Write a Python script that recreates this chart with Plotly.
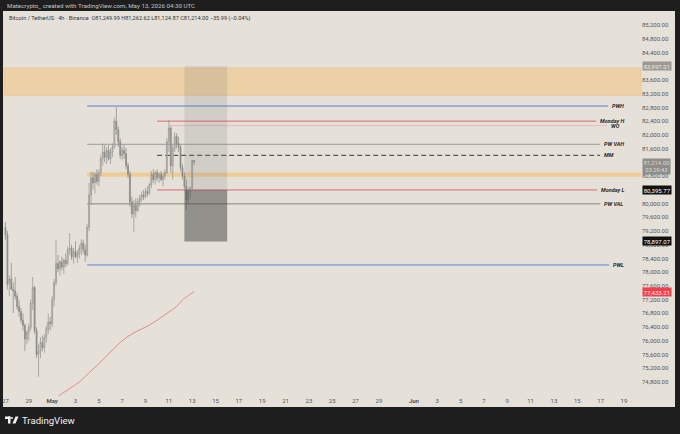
import pandas as pd
import plotly.graph_objects as go

# BTC/USDT 4h candles (Binance), first bar 2026-04-27 00:00 UTC
candle_start = "2026-04-27 00:00"
opens = [79300, 79100, 77650, 77800, 77500, 77450, 77300, 77000, 76850, 76600,
         76450, 76050, 76250, 76400, 77100, 77550, 76300, 75600, 75700, 75950,
         75800, 76100, 76350, 76550, 76500, 77200, 77700, 78250, 78100, 78300,
         78150, 78350, 78250, 78650, 78700, 78450, 78600, 78450, 78550, 78700,
         78850, 78650, 78500, 79300, 80250, 80750, 80600, 80850, 80650, 80900,
         81300, 81500, 81350, 81550, 81300, 81500, 81650, 82400, 82150, 81800,
         81400, 81550, 81450, 81100, 80850, 80050, 79700, 79950, 79800, 80050,
         80150, 80250, 80200, 80350, 80300, 80550, 80850, 80700, 80900, 80750,
         80850, 80700, 80800, 80900, 81800, 82200, 81100, 81600, 81950, 81750,
         81650, 81050, 80800, 80500, 80100, 80350, 80450, 81249.99]
highs = [79460, 79200, 77900, 78270, 77700, 77860, 77400, 77200, 76950, 76800,
         76500, 76300, 76500, 77200, 77860, 77600, 76400, 75900, 76100, 76150,
         76200, 76450, 76800, 76700, 77300, 77800, 78940, 78500, 78350, 78450,
         78400, 78550, 78750, 79140, 78800, 78700, 78900, 78650, 78800, 78950,
         78950, 78800, 79400, 80600, 80920, 80920, 80900, 81000, 81000, 81400,
         81750, 81700, 81650, 81700, 81600, 81750, 82500, 82810, 82250, 81900,
         81650, 81700, 81620, 81200, 80950, 80200, 80100, 80150, 80150, 80250,
         80350, 80400, 80450, 80500, 80600, 80950, 81000, 80950, 81000, 80900,
         80950, 80900, 81000, 81900, 82430, 82250, 81700, 82080, 82050, 81950,
         81700, 81150, 80900, 80700, 80450, 80500, 81270, 81262.62]
lows = [78950, 77500, 77300, 77600, 76810, 77200, 76900, 76700, 76500, 76300,
        75700, 75900, 76000, 76300, 76900, 76200, 75500, 74950, 75500, 75700,
        75650, 75950, 76200, 76300, 76400, 77000, 77600, 78000, 77900, 78050,
        77950, 78150, 78200, 78500, 78350, 78250, 78400, 78270, 78400, 78500,
        78550, 78300, 78450, 79200, 79960, 80400, 80300, 80550, 80500, 80800,
        81100, 81200, 81150, 81250, 81150, 81350, 81600, 82000, 81650, 81300,
        81250, 81300, 81000, 80750, 79900, 79580, 79170, 79600, 79750, 79900,
        80050, 80100, 80150, 80200, 80250, 80450, 80600, 80550, 80650, 80600,
        80650, 80500, 80700, 80850, 81500, 80900, 80700, 81500, 81600, 81500,
        80950, 80700, 80400, 79810, 80000, 80150, 80400, 81124.87]
closes = [79100, 77650, 77800, 77500, 77450, 77300, 77000, 76850, 76600, 76450,
          76050, 76250, 76400, 77100, 77550, 76300, 75600, 75700, 75950, 75800,
          76100, 76350, 76550, 76500, 77200, 77700, 78250, 78100, 78300, 78150,
          78350, 78250, 78650, 78700, 78450, 78600, 78450, 78550, 78700, 78850,
          78650, 78500, 79300, 80250, 80750, 80600, 80850, 80650, 80900, 81300,
          81500, 81350, 81550, 81300, 81500, 81650, 82400, 82150, 81800, 81400,
          81550, 81450, 81100, 80850, 80050, 79700, 79950, 79800, 80050, 80150,
          80250, 80200, 80350, 80300, 80550, 80850, 80700, 80900, 80750, 80850,
          80700, 80800, 80900, 81800, 82200, 81100, 81600, 81950, 81750, 81650,
          81050, 80800, 80500, 80100, 80350, 80450, 81250, 81214.00]

# moving average (red line), sampled at candle indices
ma_index = [26, 28, 33, 38, 43, 48, 53, 58, 63, 68, 74, 79, 84, 88, 91, 94, 97]
ma_values = [74330, 74420, 74610, 74800, 75070, 75330, 75620, 75900, 76130,
             76290, 76460, 76640, 76840, 77000, 77190, 77320, 77433.21]

# key levels drawn by the indicator
level_names = ["PWH", "Monday H", "WO", "PW VAH", "MM", "Monday L", "PW VAL", "PWL"]
level_prices = [82840, 82400, 82270, 81725, 81404, 80395.77, 79990, 78210]
level_starts = ["2026-05-04", "2026-05-10", "2026-05-11", "2026-05-04",
                "2026-05-10", "2026-05-10", "2026-05-04", "2026-05-04"]

# supply zones
zone_big = (83150, 83950)
zone_thin = (80780, 80900)
zone_thin_start = "2026-05-04"

# long-position tool
pos_entry = 80395.77
pos_stop = 78897.07
pos_target = 83997.01
pos_start = "2026-05-12 08:00"
pos_end = "2026-05-16 00:00"

price_ticks = list(range(74800, 85601, 400))
hidden_ticks = [84000, 81200, 80400]   # sit under the price badges
date_ticks = ["2026-04-27", "2026-04-29", "2026-05-01", "2026-05-03", "2026-05-05",
              "2026-05-07", "2026-05-09", "2026-05-11", "2026-05-13", "2026-05-15",
              "2026-05-17", "2026-05-19", "2026-05-21", "2026-05-23", "2026-05-25",
              "2026-05-27", "2026-05-29", "2026-06-01", "2026-06-03", "2026-06-05",
              "2026-06-07", "2026-06-09", "2026-06-11", "2026-06-13", "2026-06-15",
              "2026-06-17", "2026-06-19"]
date_labels = ["27", "29", "<b>May</b>", "3", "5", "7", "9", "11", "13", "15", "17",
               "19", "21", "23", "25", "27", "29", "<b>Jun</b>", "3", "5", "7", "9",
               "11", "13", "15", "17", "19"]

header = "Matecrypto_ created with TradingView.com, May 13, 2026 04:30 UTC"
symbol_line = ("Bitcoin / TetherUS · 4h · Binance  O81,249.99 H81,262.62 "
               "L81,124.87 C81,214.00 −35.99 (−0.04%)")

W, H = 680, 434
PL, PR, PT, PB = 4, 641, 12, 396
BG = "#e5e1d9"
DARK = "#1e1e1f"
X_RANGE = ["2026-04-26 21:00", "2026-06-20 11:00"]


def px(x):
    return (x - PL) / (PR - PL)


def py(y):
    return (PB - y) / (PB - PT)


def px_date(x):
    # pixel column -> date on this chart (11.67 px per day, May 1 at x=52)
    return pd.Timestamp("2026-05-01") + pd.Timedelta(days=(x - 52) / 11.67)


times = pd.date_range(candle_start, periods=len(closes), freq="4h")

fig = go.Figure()
fig.add_trace(go.Candlestick(
    x=times, open=opens, high=highs, low=lows, close=closes,
    increasing=dict(line=dict(color="#91908c", width=0.7), fillcolor="#d6d3cc"),
    decreasing=dict(line=dict(color="#858480", width=0.7), fillcolor="#9a9995"),
    whiskerwidth=0, showlegend=False, hoverinfo="skip",
))
fig.add_trace(go.Scatter(
    x=times[ma_index], y=ma_values, mode="lines",
    line=dict(color="#e2737c", width=0.8, shape="spline"),
    showlegend=False, hoverinfo="skip",
))

shapes = []
# panel background
shapes.append(dict(type="rect", xref="paper", yref="paper", x0=px(3), x1=px(675),
                   y0=py(407), y1=py(11), fillcolor=BG, line_width=0, layer="below"))
# orange zones
shapes.append(dict(type="rect", xref="paper", yref="y", x0=0, x1=1,
                   y0=zone_big[0], y1=zone_big[1], fillcolor="#edd0a6",
                   line=dict(color="#e9c48f", width=0.6), layer="below"))
shapes.append(dict(type="rect", xref="x", yref="y", x0=zone_thin_start, x1=X_RANGE[1],
                   y0=zone_thin[0], y1=zone_thin[1], fillcolor="#efcb98",
                   line_width=0, layer="below"))

level_style = {
    "PWH": dict(color="#5a7fd8", width=1.0, dash="solid", end=608),
    "Monday H": dict(color="#e0566a", width=0.9, dash="solid", end=596),
    "WO": dict(color="#eab0b8", width=0.8, dash="solid", end=607),
    "PW VAH": dict(color="#8c8b87", width=0.8, dash="solid", end=600),
    "MM": dict(color="#222222", width=0.9, dash="5px,3px", end=600),
    "Monday L": dict(color="#e0566a", width=0.9, dash="solid", end=597),
    "PW VAL": dict(color="#6f6e6a", width=0.8, dash="solid", end=600),
    "PWL": dict(color="#5a7fd8", width=1.0, dash="solid", end=609),
}

annotations = []
for name, price, start in zip(level_names, level_prices, level_starts):
    st = level_style[name]
    shapes.append(dict(type="line", xref="x", yref="y", x0=start, x1=px_date(st["end"]),
                       y0=price, y1=price, layer="below",
                       line=dict(color=st["color"], width=st["width"], dash=st["dash"])))
    annotations.append(dict(xref="paper", yref="y", x=px(st["end"] + 2), y=price,
                            text=f"<b><i>{name}</i></b>", showarrow=False,
                            xanchor="left", yanchor="middle",
                            font=dict(size=5.5, color="#2b2b2b")))

# position tool boxes
shapes.append(dict(type="rect", xref="x", yref="y", x0=pos_start, x1=pos_end,
                   y0=pos_entry, y1=pos_target, fillcolor="rgba(110,110,110,0.17)",
                   line_width=0, layer="above"))
shapes.append(dict(type="rect", xref="x", yref="y", x0=pos_start, x1=pos_end,
                   y0=pos_stop, y1=pos_entry, fillcolor="rgba(70,70,68,0.52)",
                   line_width=0, layer="above"))

# price scale badges
badges = [
    (pos_target, f"{pos_target:,.2f}", "#9b9a96", "#ecebe7"),
    (pos_entry, f"{pos_entry:,.2f}", "#111111", "#ffffff"),
    (pos_stop, f"{pos_stop:,.2f}", "#111111", "#ffffff"),
    (ma_values[-1], f"{ma_values[-1]:,.2f}", "#f0404f", "#ffe6e8"),
]
for price, text, bg, fg in badges:
    annotations.append(dict(xref="paper", yref="y", x=px(642), y=price, text=text,
                            showarrow=False, xanchor="left", yanchor="middle",
                            bgcolor=bg, borderpad=0.7,
                            font=dict(size=6, color=fg)))
annotations.append(dict(xref="paper", yref="y", x=px(642), y=closes[-1] + 120,
                        text=f"{closes[-1]:,.2f}<br>03:29:43", showarrow=False,
                        xanchor="left", yanchor="top", bgcolor="#8e8d8a",
                        borderpad=0.7, font=dict(size=5.8, color="#dcdbd7")))

# header / footer texts
annotations.append(dict(xref="paper", yref="paper", x=px(5), y=py(6), text=header,
                        showarrow=False, xanchor="left", yanchor="middle",
                        font=dict(size=6.2, color="#c4c4c4")))
annotations.append(dict(xref="paper", yref="paper", x=px(7), y=py(18), text=symbol_line,
                        showarrow=False, xanchor="left", yanchor="middle",
                        font=dict(size=5.6, color="#333333")))
annotations.append(dict(xref="paper", yref="paper", x=px(20), y=py(420),
                        text="TradingView", showarrow=False, xanchor="left",
                        yanchor="middle", font=dict(size=9.6, color="#f2f2f2")))

# TradingView logo
shapes.append(dict(type="rect", xref="paper", yref="paper", x0=px(5), x1=px(10.5),
                   y0=py(419), y1=py(416.5), fillcolor="#f2f2f2", line_width=0))
shapes.append(dict(type="rect", xref="paper", yref="paper", x0=px(8), x1=px(10.5),
                   y0=py(423.5), y1=py(416.5), fillcolor="#f2f2f2", line_width=0))
shapes.append(dict(type="circle", xref="paper", yref="paper", x0=px(11), x1=px(13),
                   y0=py(419), y1=py(417), fillcolor="#f2f2f2", line_width=0))
shapes.append(dict(type="path", xref="paper", yref="paper",
                   path=(f"M {px(12.5)},{py(423.5)} L {px(15.5)},{py(416.5)} "
                         f"L {px(18.5)},{py(416.5)} L {px(15.5)},{py(423.5)} Z"),
                   fillcolor="#f2f2f2", line_width=0))

fig.update_layout(
    width=W, height=H,
    margin=dict(l=PL, r=W - PR, t=PT, b=H - PB, pad=0),
    paper_bgcolor=DARK, plot_bgcolor=BG,
    font=dict(family="Roboto, Arial, sans-serif"),
    shapes=shapes, annotations=annotations,
    showlegend=False,
    xaxis=dict(type="date", range=X_RANGE, rangeslider=dict(visible=False),
               tickvals=date_ticks, ticktext=date_labels, showgrid=False,
               zeroline=False, showline=False, ticks="", automargin=False,
               tickfont=dict(size=6, color="#555555")),
    yaxis=dict(range=[74393, 85579], side="right", tickvals=price_ticks,
               ticktext=["" if v in hidden_ticks else f"{v:,.2f}" for v in price_ticks],
               showgrid=False, zeroline=False, showline=False, ticks="",
               automargin=False, tickfont=dict(size=6, color="#555555")),
)

# the page body has a default 8px margin; drop it so the figure fills the window
fig.write_html("out.html", config={"displayModeBar": False},
               post_script="document.body.style.margin = '0';")
